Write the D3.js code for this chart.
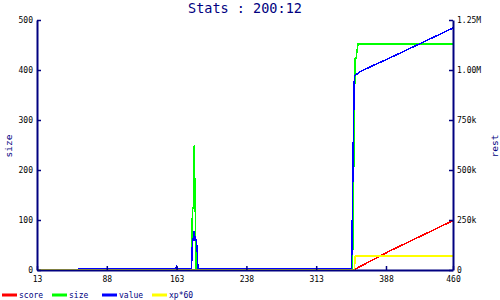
<!DOCTYPE html>
<html>
<head>
  <meta charset="utf-8">
  <title>Stats : 200:12</title>
  <script src="https://cdn.jsdelivr.net/npm/d3@7"></script>
  <style>
    body { margin: 0; background: #fff; }
    text { font-family: "DejaVu Sans Mono", monospace; }
  </style>
</head>
<body>
  <div id="chart"></div>
  <script>
    // tick values / labels
    var xTicks = [13, 88, 163, 238, 313, 388, 460];
    var sizeTicks = [0, 100, 200, 300, 400, 500];
    var restTicks = [0, 250000, 500000, 750000, 1000000, 1250000];
    var restTickLabels = ["0", "250k", "500k", "750k", "1.00M", "1.25M"];

    // series (x index, value)
    var scoreX = [13, 353, 392, 460];
    var scoreY = [0, 0, 95000, 247000];

    var sizeX = [13, 179, 180, 181, 182, 183, 184, 352, 353, 354, 355, 356, 357, 358, 460];
    var sizeY = [0, 0, 124, 124, 250, 124, 0, 0, 130, 330, 424, 424, 440, 452, 452];

    var valueX = [13, 14, 57, 58, 162, 163, 164, 179, 180, 181, 182, 183, 184, 185, 186,
                  351, 352, 353, 354, 360, 373, 392, 460];
    var valueY = [8000, 0, 0, 5000, 5000, 17000, 5000, 5000, 135000, 160000, 195000, 150000, 150000, 110000, 5000,
                  5000, 330000, 700000, 970000, 991000, 1020000, 1060000, 1210000];

    var xpX = [13, 354, 355, 460];
    var xpY = [0, 0, 70000, 70000];

    var seriesNames = ["score", "size", "value", "xp*60"];
    var seriesColors = ["#ff0000", "#00ff00", "#0000ff", "#ffff00"];

    var navy = "#000080";

    var svg = d3.select("#chart").append("svg")
      .attr("width", 500)
      .attr("height", 300);

    var x = d3.scaleLinear().domain([13, 460]).range([37, 453]);
    var yL = d3.scaleLinear().domain([0, 500]).range([270, 20]);
    var yR = d3.scaleLinear().domain([0, 1250000]).range([270, 20]);

    // title
    svg.append("text")
      .attr("x", 245)
      .attr("y", 13)
      .attr("text-anchor", "middle")
      .style("font-size", "13.5px")
      .style("fill", navy)
      .text("Stats : 200:12");

    // lines
    function drawLine(xs, ys, scale, color) {
      var pts = xs.map(function(d, i) { return [d, ys[i]]; });
      var line = d3.line()
        .x(function(d) { return x(d[0]); })
        .y(function(d) { return scale(d[1]); });
      svg.append("path")
        .datum(pts)
        .attr("d", line)
        .attr("fill", "none")
        .attr("stroke", color)
        .attr("stroke-width", 1.5)
        .attr("shape-rendering", "crispEdges");
    }
    drawLine(scoreX, scoreY, yR, seriesColors[0]);
    drawLine(sizeX, sizeY, yL, seriesColors[1]);
    drawLine(valueX, valueY, yR, seriesColors[2]);
    drawLine(xpX, xpY, yR, seriesColors[3]);

    // axes
    function styleAxis(g) {
      g.select(".domain").attr("stroke", navy).attr("stroke-width", 2);
      g.selectAll(".tick line").attr("stroke", navy).attr("stroke-width", 1.5);
      g.selectAll(".tick text").attr("fill", "#000").style("font-size", "8px")
        .style("font-family", "'DejaVu Sans Mono', monospace");
    }

    svg.append("g")
      .attr("transform", "translate(0,270)")
      .call(d3.axisBottom(x).tickValues(xTicks).tickSizeInner(-4).tickSizeOuter(0).tickPadding(6))
      .call(styleAxis);

    svg.append("g")
      .attr("transform", "translate(37,0)")
      .call(d3.axisLeft(yL).tickValues(sizeTicks).tickSizeInner(-4).tickSizeOuter(0).tickPadding(4))
      .call(styleAxis);

    svg.append("g")
      .attr("transform", "translate(453,0)")
      .call(d3.axisRight(yR).tickValues(restTicks).tickSizeInner(-4).tickSizeOuter(0).tickPadding(4)
        .tickFormat(function(d, i) { return restTickLabels[i]; }))
      .call(styleAxis);

    // axis titles
    svg.append("text")
      .attr("transform", "translate(12,146) rotate(-90)")
      .attr("text-anchor", "middle")
      .style("font-size", "9.5px")
      .style("fill", navy)
      .text("size");

    svg.append("text")
      .attr("transform", "translate(498,146) rotate(-90)")
      .attr("text-anchor", "middle")
      .style("font-size", "9.5px")
      .style("fill", navy)
      .text("rest");

    // legend
    var legend = svg.append("g").attr("transform", "translate(0,295)");
    seriesNames.forEach(function(name, i) {
      legend.append("line")
        .attr("x1", 2 + i * 50).attr("x2", 17 + i * 50)
        .attr("y1", 0).attr("y2", 0)
        .attr("stroke", seriesColors[i])
        .attr("stroke-width", 3);
      legend.append("text")
        .attr("x", 19 + i * 50)
        .attr("y", 3)
        .style("font-size", "8px")
        .style("fill", navy)
        .text(name);
    });
  </script>
</body>
</html>
